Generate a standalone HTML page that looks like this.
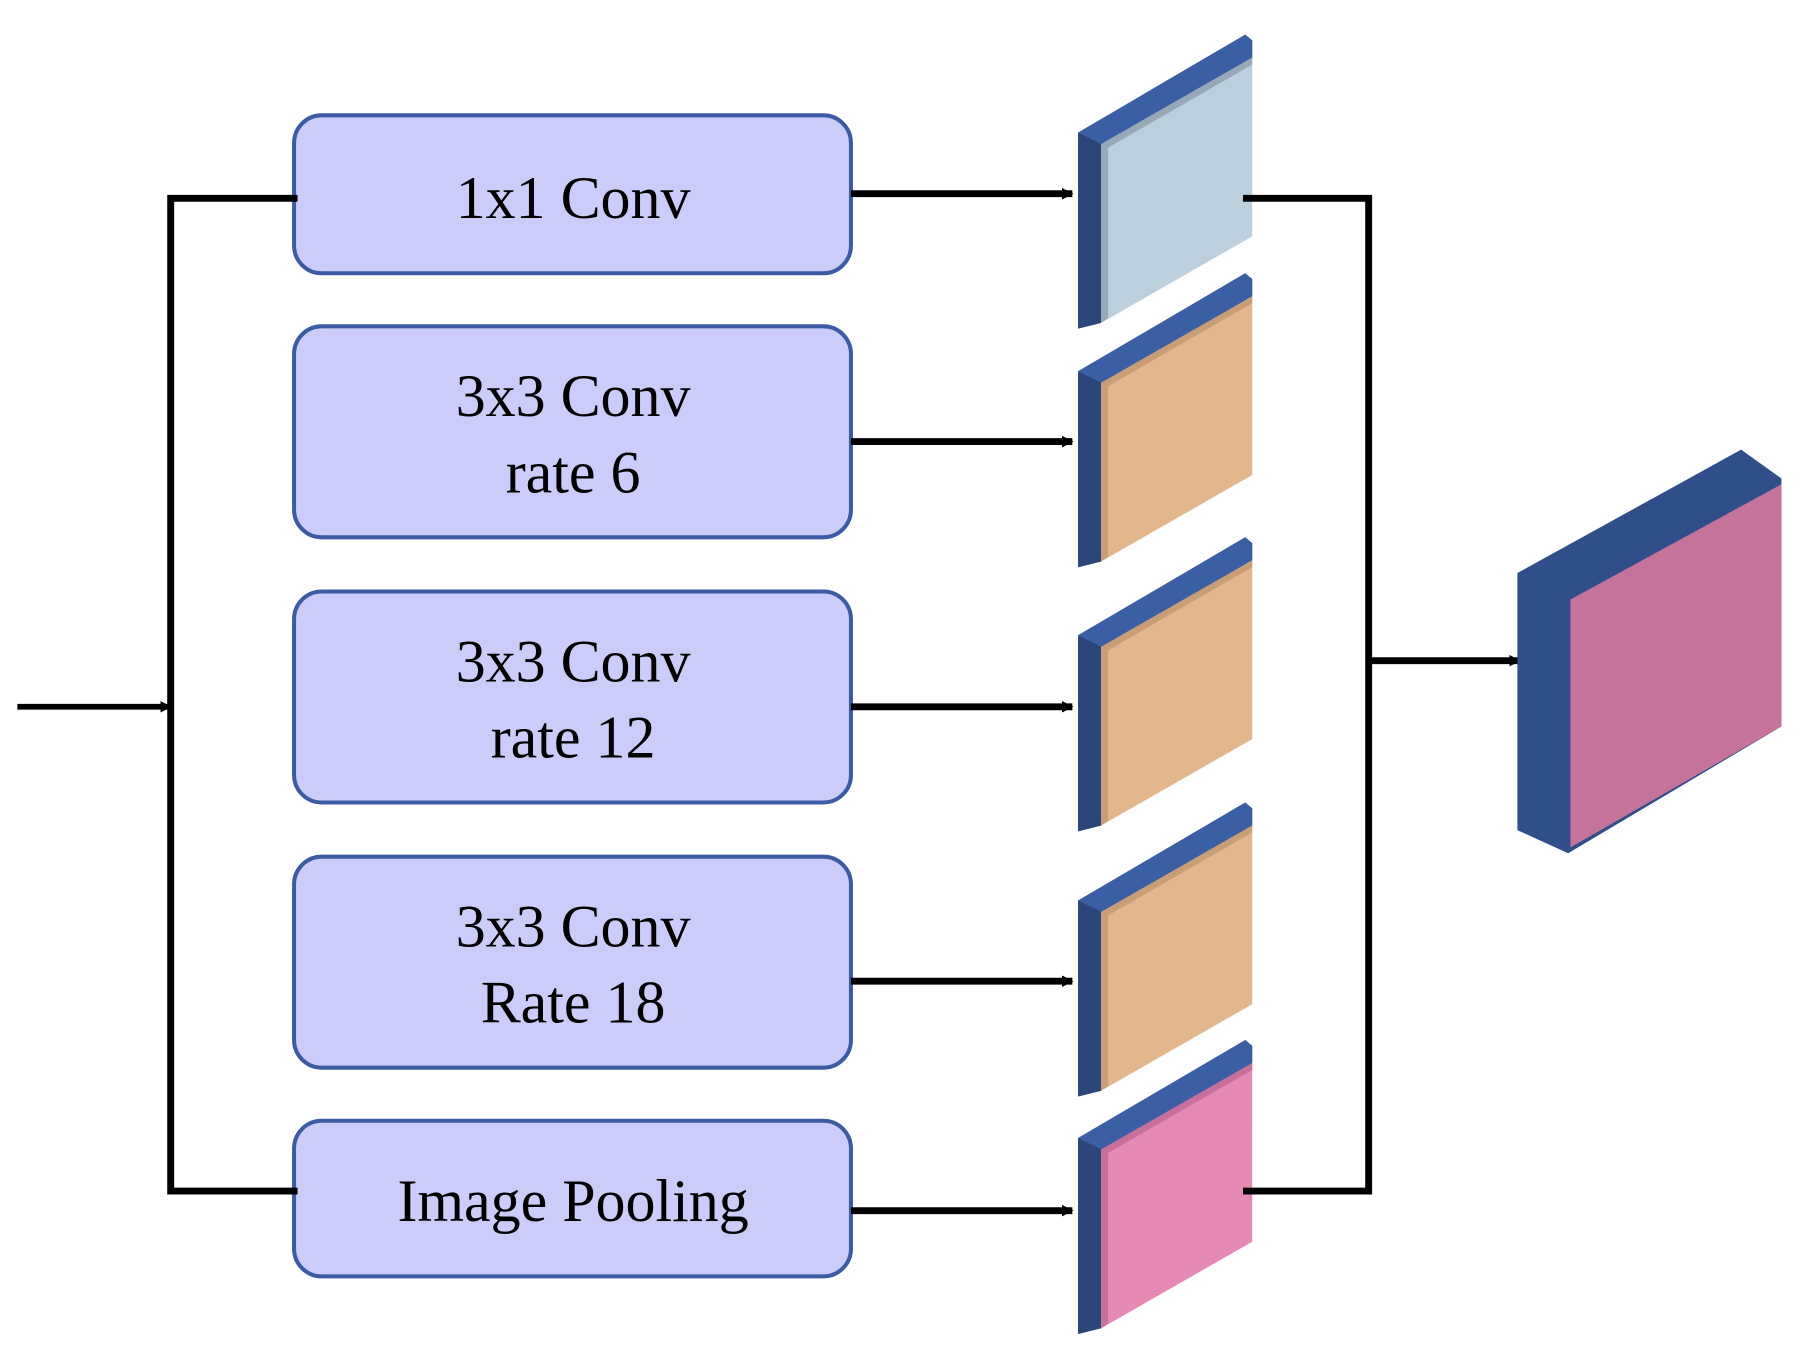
<!DOCTYPE html>
<html><head><meta charset="utf-8"><style>html,body{margin:0;padding:0;background:#fff}svg{display:block}</style></head>
<body>
<svg width="1808" height="1364" viewBox="0 0 1568 1183" xmlns="http://www.w3.org/2000/svg">
<defs>
<marker id="ah" markerWidth="10" markerHeight="10" refX="9" refY="5" orient="auto" markerUnits="userSpaceOnUse" viewBox="0 0 10 10"><path d="M0,0 L10,5 L0,10 z" fill="#000"/></marker>
<g id="slab">
<polygon points="935,115 1080,30 1086,35 1086,50 955,125 955,280 935,285" fill="#2e4a80"/>
<polygon points="935,115 1080,30 1086,36 1086,50 955,125" fill="#3a5fa5"/>
<polygon points="935,115 955,125 955,280 935,285" fill="#2b4679"/>
</g>
</defs>
<g fill="#ccccfa" stroke="#3b5ba5" stroke-width="3.5">
<rect x="255" y="100" width="483" height="137" rx="24"/>
<rect x="255" y="283" width="483" height="183" rx="24"/>
<rect x="255" y="513" width="483" height="183" rx="24"/>
<rect x="255" y="743" width="483" height="183" rx="24"/>
<rect x="255" y="972" width="483" height="135" rx="24"/>
</g>
<g font-family="Liberation Serif, serif" font-size="52" text-anchor="middle" fill="#000">
<text x="497" y="189">1x1 Conv</text>
<text x="497" y="361">3x3 Conv</text><text x="497" y="427">rate 6</text>
<text x="497" y="591">3x3 Conv</text><text x="497" y="657">rate 12</text>
<text x="497" y="821">3x3 Conv</text><text x="497" y="887">Rate 18</text>
<text x="497" y="1059">Image Pooling</text>
</g>
<g stroke="#000" stroke-width="6" fill="none">
<line x1="15" y1="613" x2="148" y2="613" marker-end="url(#ah)" stroke-width="5"/>
<polyline points="258,172 148,172 148,1033 258,1033"/>
<line x1="738" y1="168" x2="930" y2="168" marker-end="url(#ah)"/>
<line x1="738" y1="383" x2="930" y2="383" marker-end="url(#ah)"/>
<line x1="738" y1="613" x2="930" y2="613" marker-end="url(#ah)"/>
<line x1="738" y1="851" x2="930" y2="851" marker-end="url(#ah)"/>
<line x1="738" y1="1050" x2="930" y2="1050" marker-end="url(#ah)"/>
</g>
<g>
<use href="#slab"/>
<polygon points="955,125 1086,50 1086,205 955,280" fill="#bccfdd"/>
<polygon points="955,125 1086,50 1086,56 961,128 961,276 955,280" fill="#97a8b6"/>
<g transform="translate(0,207)"><use href="#slab"/><polygon points="955,125 1086,50 1086,205 955,280" fill="#e3b78d"/><polygon points="955,125 1086,50 1086,56 961,128 961,276 955,280" fill="#c99e74"/></g>
<g transform="translate(0,436)"><use href="#slab"/><polygon points="955,125 1086,50 1086,205 955,280" fill="#e3b78d"/><polygon points="955,125 1086,50 1086,56 961,128 961,276 955,280" fill="#c99e74"/></g>
<g transform="translate(0,666)"><use href="#slab"/><polygon points="955,125 1086,50 1086,205 955,280" fill="#e3b78d"/><polygon points="955,125 1086,50 1086,56 961,128 961,276 955,280" fill="#c99e74"/></g>
<g transform="translate(0,872)"><use href="#slab"/><polygon points="955,125 1086,50 1086,205 955,280" fill="#e68ab5"/><polygon points="955,125 1086,50 1086,56 961,128 961,276 955,280" fill="#c9709a"/></g>
</g>
<g stroke="#000" stroke-width="6" fill="none">
<polyline points="1078,172 1187,172 1187,1033 1078,1033"/>
<line x1="1187" y1="573" x2="1318" y2="573" marker-end="url(#ah)"/>
</g>
<polygon points="1316,497 1510,390 1545,415 1545,630 1360,740 1316,720" fill="#2f4f8a"/>
<polygon points="1362,520 1545,420 1545,630 1362,735" fill="#c5739a"/>
</svg>
</body></html>
